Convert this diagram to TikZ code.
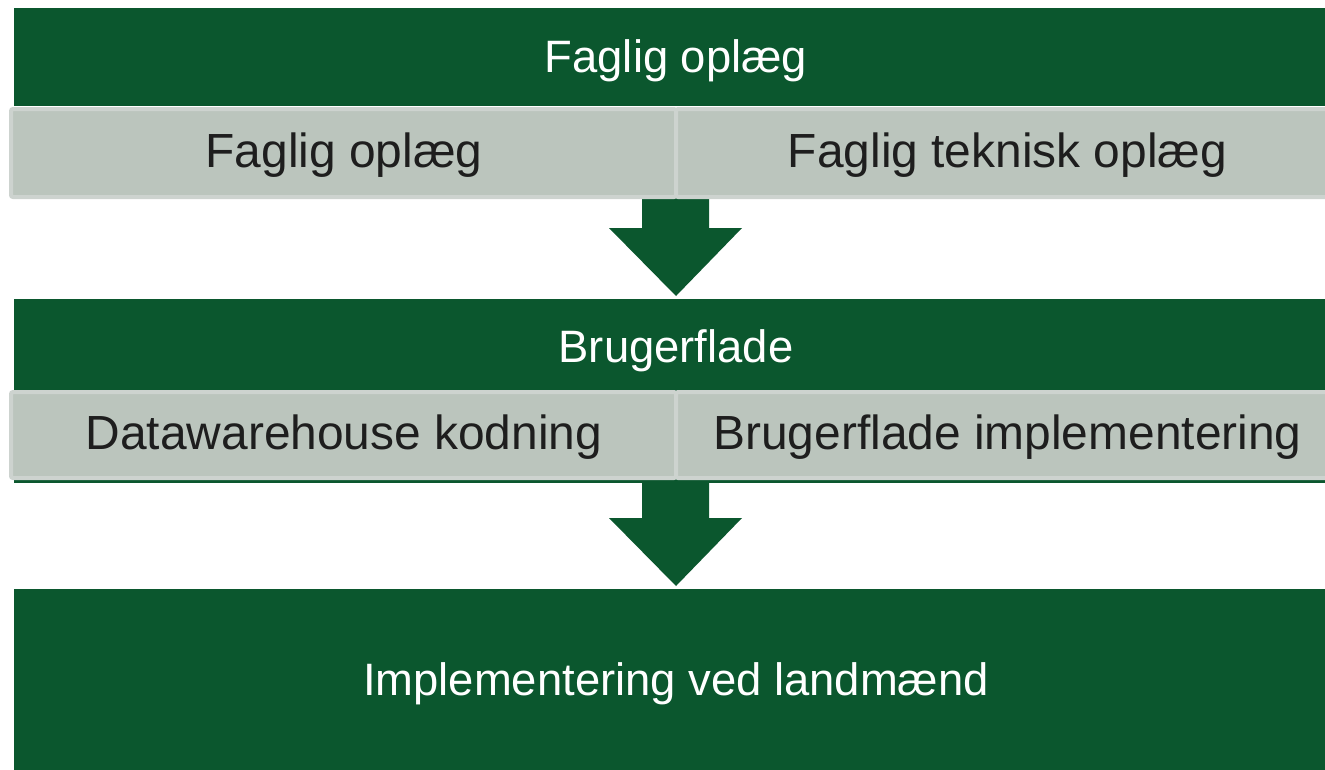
\documentclass[tikz,border=0pt]{standalone}
\usepackage{fontspec}
\setmainfont{Liberation Sans}
\definecolor{dgreen}{RGB}{11,87,46}
\definecolor{cellgray}{RGB}{187,197,189}
\definecolor{cellborder}{RGB}{205,211,207}
\definecolor{darktext}{RGB}{30,30,30}
\tikzset{
  bar/.style={fill=dgreen, draw=none, inner sep=0pt},
  bartext/.style={text=white, inner sep=0pt,
    font=\fontsize{45.4}{54}\selectfont, text height=32.5pt, text depth=0pt},
  cell/.style={fill=cellgray, draw=cellborder, line width=4pt, rounded corners=2pt,
    inner sep=0pt},
  celltext/.style={text=darktext, inner sep=0pt,
    font=\fontsize{47.9}{57}\selectfont, text height=34.3pt, text depth=0pt},
  blockarrow/.style={fill=dgreen, draw=none}
}
\begin{document}
\begin{tikzpicture}[x=1pt,y=-1pt]
\useasboundingbox (0,0) rectangle (1325,769);
% top bar
\node[bar, minimum width=1324pt, minimum height=98pt] (bar1) at (676,57) {};
\node[bartext] (bar1t) at (676,55.8) {Faglig oplæg};
% first arrow
\fill[blockarrow] (642,195) -- (709,195) -- (709,228) -- (742,228) -- (676,296) -- (609,228) -- (642,228) -- cycle;
% cells row 1
\node[cell, minimum width=665pt, minimum height=88pt] (c1a) at (343.5,153) {};
\node[cell, minimum width=663pt, minimum height=88pt] (c1b) at (1007.5,153) {};
\node[celltext] (c1at) at (344,150.5) {Faglig oplæg};
\node[celltext] (c1bt) at (1007.5,150.5) {Faglig teknisk oplæg};
% second bar (extends under cells)
\node[bar, minimum width=1324pt, minimum height=184pt, anchor=north] (bar2) at (676,299) {};
\node[bartext] (bar2t) at (676,346) {Brugerflade};
% second arrow
\fill[blockarrow] (642,481) -- (709,481) -- (709,518) -- (742,518) -- (676,586) -- (609,518) -- (642,518) -- cycle;
% cells row 2
\node[cell, minimum width=665pt, minimum height=86pt] (c2a) at (343.5,435) {};
\node[cell, minimum width=663pt, minimum height=86pt] (c2b) at (1007.5,435) {};
\node[celltext] (c2at) at (344,432.5) {Datawarehouse kodning};
\node[celltext] (c2bt) at (1007.5,432.5) {Brugerflade implementering};
% bottom bar
\node[bar, minimum width=1324pt, minimum height=184pt] (bar3) at (676,681) {};
\node[bartext] (bar3t) at (676,679) {Implementering ved landmænd};
\end{tikzpicture}
\end{document}
